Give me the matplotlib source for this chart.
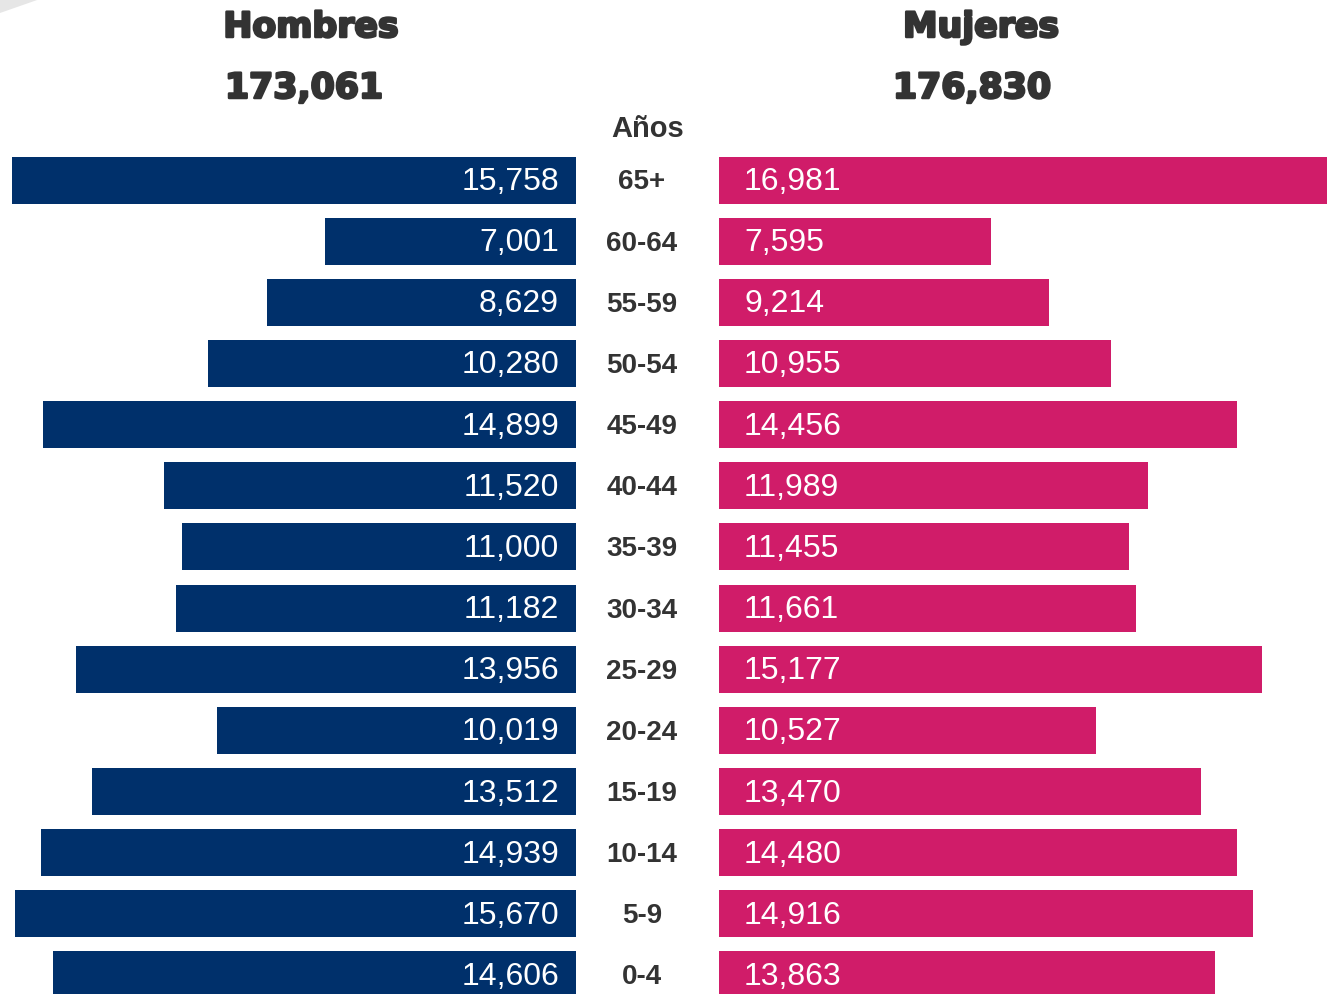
import matplotlib
matplotlib.use("Agg")
import matplotlib.pyplot as plt
from matplotlib.patches import Polygon
import matplotlib.patheffects as pe

ages = ["65+", "60-64", "55-59", "50-54", "45-49", "40-44", "35-39",
        "30-34", "25-29", "20-24", "15-19", "10-14", "5-9", "0-4"]
hombres = [15758, 7001, 8629, 10280, 14899, 11520, 11000,
           11182, 13956, 10019, 13512, 14939, 15670, 14606]
mujeres = [16981, 7595, 9214, 10955, 14456, 11989, 11455,
           11661, 15177, 10527, 13470, 14480, 14916, 13863]
total_h = "173,061"
total_m = "176,830"

NAVY = "#00306b"
PINK = "#d01c69"
DARK = "#333333"

W, H = 1332, 995
fig = plt.figure(figsize=(W / 100, H / 100), dpi=100)
fig.patch.set_facecolor("white")

px_per_unit = 0.0358  # pixels per person
row_px = 61.15
top_center = 181
y_top = -top_center / row_px
y_bot = (H - top_center) / row_px

axL = fig.add_axes([0, 0, 576 / W, 1])
axL.set_xlim(576 / px_per_unit, 0)
axL.set_ylim(y_bot, y_top)
axR = fig.add_axes([719 / W, 0, (W - 719) / W, 1])
axR.set_xlim(0, (W - 719) / px_per_unit)
axR.set_ylim(y_bot, y_top)
for ax in (axL, axR):
    ax.axis("off")

ys = list(range(len(ages)))
axL.barh(ys, hombres, height=47 / row_px, color=NAVY)
axR.barh(ys, mujeres, height=47 / row_px, color=PINK)

lab_font = dict(family="Liberation Sans", fontsize=23, color="white", va="center")
dy = 1.0 / row_px
for y, v in zip(ys, hombres):
    axL.text(17 / px_per_unit, y + dy, f"{v:,}", ha="right", **lab_font)
for y, v in zip(ys, mujeres):
    axR.text(25 / px_per_unit, y + dy, f"{v:,}", ha="left", **lab_font)

for y, a in zip(ys, ages):
    yp = top_center + row_px * y
    fig.text(642 / W, 1 - (yp + 1.5) / H, a, ha="center", va="center",
             family="Liberation Sans", fontweight="bold", fontsize=20, color=DARK)

fig.text(648 / W, 1 - 129 / H, "Años", ha="center", va="center",
         family="Liberation Sans", fontweight="bold", fontsize=21, color=DARK)

head = dict(ha="center", va="center", family="DejaVu Sans", fontweight="heavy",
            fontsize=25, color=DARK,
            path_effects=[pe.withStroke(linewidth=1.8, foreground=DARK)])
fig.text(311 / W, 1 - 28 / H, "Hombres", **head)
fig.text(304 / W, 1 - 89 / H, total_h, **head)
fig.text(981 / W, 1 - 28 / H, "Mujeres", **head)
fig.text(972 / W, 1 - 89 / H, total_m, **head)

fig.patches.append(Polygon([[0, 1], [40 / W, 1], [0, 1 - 14 / H]],
                           closed=True, transform=fig.transFigure,
                           facecolor="#e6e6e6", edgecolor="none"))

fig.savefig("out.png", dpi=100)
